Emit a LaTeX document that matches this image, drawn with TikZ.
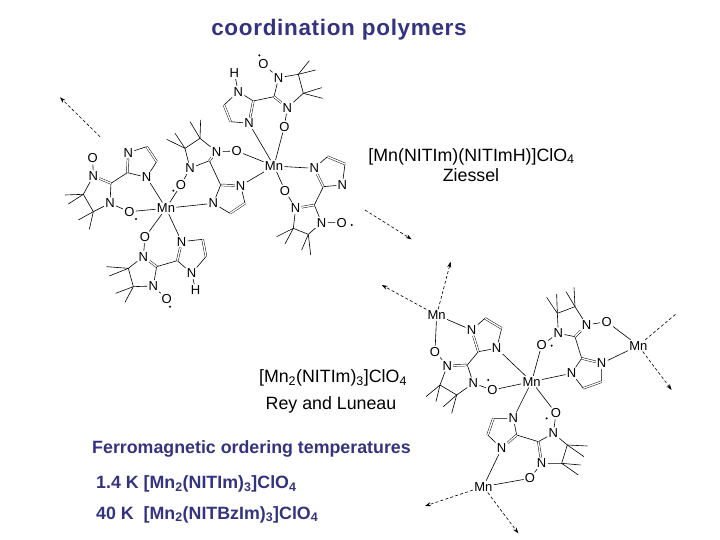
\documentclass[tikz,border=0pt]{standalone}
\usepackage{fontspec}
\setmainfont{Liberation Sans}
\usetikzlibrary{arrows.meta}
\definecolor{headblue}{HTML}{333380}
\tikzset{
  >={Stealth[length=6pt,width=4pt]},
  bond/.style={line width=.6pt},
  dbond/.style={line width=.45pt,double,double distance=1.4pt},
  atom/.style={inner sep=1.2pt,font=\fontsize{13}{13}\selectfont},
  radical/.style={circle,fill,inner sep=0pt,minimum size=2.2pt},
  dasharrow/.style={line width=.6pt,dash pattern=on 3pt off 2.2pt},
  formula/.style={inner sep=0pt,font=\fontsize{17.8}{17.8}\selectfont},
  head/.style={inner sep=0pt,text=headblue,font=\bfseries\fontsize{17.8}{17.8}\selectfont},
}
\begin{document}
\begin{tikzpicture}[x=1pt,y=-1pt]
\useasboundingbox (0,0) rectangle (720,540);
\node[head,font=\bfseries\fontsize{22.5}{22.5}\selectfont\addfontfeature{LetterSpace=3}] (title) at (339,30) {coordination polymers};
\node[formula] (zform) at (471.5,156.5) {[Mn(NITIm)(NITImH)]ClO\textsubscript{4}};
\node[formula] (zname) at (471,175) {Ziessel};
\node[formula] (rform) at (333,378) {[Mn\textsubscript{2}(NITIm)\textsubscript{3}]ClO\textsubscript{4}};
\node[formula] (rname) at (331,404.5) {Rey and Luneau};
\node[head] (ferro) at (251.5,449) {Ferromagnetic ordering temperatures};
\node[head,anchor=west] (tempa) at (96,484) {1.4 K [Mn\textsubscript{2}(NITIm)\textsubscript{3}]ClO\textsubscript{4}};
\node[head,anchor=west] (tempb) at (96,514.5) {40 K\ \ [Mn\textsubscript{2}(NITBzIm)\textsubscript{3}]ClO\textsubscript{4}};

% upper chain
\begin{scope}[shift={(50,40)},scale=1/3]
\foreach \n/\x/\y/\lab in {Mn1/672/378/Mn,Mn2/348/505/Mn,
  aO1/640/73/O,aN1/686/113/N,aN2/712/203/N,aO2/703/260/O,aN3/565/155/N,aH/553/100/H,aN4/597/250/N,
  bN1/500/335/N,bO1/560/333/O,bN2/420/385/N,bO2/393/435/O,bN3/572/437/N,bN4/490/490/N,
  cN1/235/338/N,cN2/290/412/N,cN3/130/408/N,cO1/128/355/O,cN4/180/490/N,cO2/238/515/O,
  dO1/285/592/O,dN1/280/650/N,dN2/310/738/N,dO2/350/778/O,dN3/395/605/N,dN4/425/700/N,dH/437/750/H,
  eN1/793/385/N,eN2/877/435/N,eN3/737/505/N,eO1/705/452/O,eN4/815/548/N,eO2/875/548/O}
  \node[atom] (\n) at (\x,\y) {\lab};
\foreach \n/\x/\y in {aC1/745/103,aC2/760/160,aC3/672/170,aC4/610/183,aC5/522/195,aC6/542/245,
  bC1/450/295,bC2/405/325,bC3/478/362,bC4/512/435,bC5/585/490,bC6/540/520,
  cC1/290/320,cC2/320/365,cC3/232/398,cC4/183/430,cC5/100/463,cC6/130/515,
  dC1/320/680,dC2/235/685,dC3/250/740,dC4/382/662,dC5/458/598,dC6/468/650,
  eC1/832/350,eC2/885/372,eC3/820/440,eC4/793/495,eC5/730/565,eC6/775/583}
  \coordinate (\n) at (\x,\y);
\foreach \p/\q in {aO1/aN1,aN1/aC1,aC1/aC2,aC2/aN2,aC3/aN1,aC3/aC4,aC4/aN3,aN3/aC5,aC6/aN4,aN3/aH,aN2/aO2,aO2/Mn1,aN4/Mn1,
  bN1/bC1,bC1/bC2,bC2/bN2,bN2/bC3,bC3/bC4,bN1/bO1,bO1/Mn1,bN2/bO2,bO2/Mn2,bN3/bC5,bC6/bN4,bN4/bC4,bN3/Mn1,bN4/Mn2,
  cN1/cC1,cC2/cN2,cN2/cC3,cN2/Mn2,cC3/cC4,cN3/cO1,cN3/cC5,cC5/cC6,cC6/cN4,cN4/cC4,cN4/cO2,cO2/Mn2,
  dO1/Mn2,dO1/dN1,dN1/dC2,dC2/dC3,dC3/dN2,dN2/dC1,dN2/dO2,dC1/dC4,dN3/dC5,dC6/dN4,dN4/dC4,dN4/dH,dN3/Mn2,
  Mn1/eN1,eN1/eC1,eC2/eN2,eN2/eC3,eC3/eC4,eN3/eO1,eO1/Mn1,eN3/eC5,eC5/eC6,eC6/eN4,eN4/eC4,eN4/eO2}
  \draw[bond] (\p) -- (\q);
\foreach \p/\q in {aN2/aC3,aC4/aN4,aC5/aC6,bN1/bC3,bC4/bN3,bC5/bC6,cN1/cC3,cC1/cC2,cC4/cN3,dN1/dC1,dC4/dN3,dC5/dC6,eN1/eC3,eC1/eC2,eC4/eN3}
  \draw[dbond] (\p) -- (\q);
\foreach \c/\x/\y [count=\i] in {aC1/778/62,aC1/797/90,aC2/815/143,aC2/818/175,bC1/420/245,bC1/452/240,bC2/350/298,bC2/375/280,
  cC5/45/465,cC5/55/492,cC6/85/540,cC6/118/568,dC2/170/680,dC2/178/708,dC3/197/760,dC3/225/787,eC5/680/590,eC5/705/612,eC6/755/630,eC6/782/645} {
  \coordinate (me\i) at (\x,\y);
  \draw[bond] (\c) -- (me\i);
}
\foreach \x/\y [count=\i] in {628/46,370/452,258/537,360/800,905/555}
  \node[radical] (rad\i) at (\x,\y) {};
\coordinate (from1) at (150,290);
\coordinate (to1) at (30,172);
\draw[dasharrow,->] (from1) -- (to1);
\end{scope}

% lower chain
\begin{scope}[shift={(360,200)},scale=1/3]
\foreach \n/\x/\y/\lab in {Mn3/230/345/Mn,Mn4/835/437/Mn,Mn5/370/860/Mn,Mn6/515/545/Mn,
  fN1/335/390/N,fN2/410/445/N,fN3/262/497/N,fO1/225/455/O,fN4/340/550/N,fO2/397/570/O,
  gO1/545/435/O,gN1/595/400/N,gN2/680/375/N,gO2/740/365/O,gN3/725/490/N,gN4/635/520/N,
  hN1/460/655/N,hN2/425/745/N,hN3/545/790/N,hO1/510/835/O,hN4/580/700/N,hO2/588/640/O}
  \node[atom] (\n) at (\x,\y) {\lab};
\foreach \n/\x/\y in {fC1/375/355,fC2/425/385,fC3/355/455,fC4/322/495,fC5/240/555,fC6/290/585,
  gC1/592/340,gC2/645/320,gC3/645/410,gC4/665/475,gC5/725/545,gC6/670/565,
  hC1/400/655,hC2/383/705,hC3/470/705,hC4/535/725,hC5/622/735,hC6/605/790}
  \coordinate (\n) at (\x,\y);
\foreach \p/\q in {Mn3/fN1,fN1/fC1,fC2/fN2,fN2/fC3,fN2/Mn6,fC3/fC4,fN3/fO1,fO1/Mn3,fN3/fC5,fC5/fC6,fC6/fN4,fN4/fC4,fN4/fO2,fO2/Mn6,
  Mn6/gO1,gO1/gN1,gN1/gC1,gC1/gC2,gC2/gN2,gC3/gN1,gN2/gO2,gO2/Mn4,gC3/gC4,gN3/gC5,gC6/gN4,gN4/gC4,gN3/Mn4,gN4/Mn6,
  Mn6/hN1,hN1/hC1,hC2/hN2,hN1/hC3,hN2/Mn5,hC3/hC4,hN3/hO1,hO1/Mn5,hC4/hN4,hN4/hO2,hO2/Mn6,hN4/hC5,hC5/hC6,hC6/hN3}
  \draw[bond] (\p) -- (\q);
\foreach \p/\q in {fN1/fC3,fC1/fC2,fC4/fN3,gN2/gC3,gC4/gN3,gC5/gC6,hC1/hC2,hC3/hN2,hC4/hN3}
  \draw[dbond] (\p) -- (\q);
\foreach \c/\x/\y [count=\i] in {fC5/198/590,fC5/228/605,fC6/250/620,fC6/275/640,gC1/560/292,gC1/590/282,gC2/618/275,gC2/642/262,
  hC5/682/738,hC5/672/770,hC6/662/795,hC6/655/825} {
  \coordinate (me\i) at (\x,\y);
  \draw[bond] (\c) -- (me\i);
}
\foreach \x/\y [count=\i] in {385/540,575/437,560/655}
  \node[radical] (rad\i) at (\x,\y) {};
\coordinate (from2) at (15,30);
\coordinate (to2) at (155,118);
\coordinate (to3) at (272,185);
\coordinate (to4) at (65,255);
\coordinate (to5) at (950,340);
\coordinate (to6) at (935,570);
\coordinate (to7) at (195,918);
\coordinate (to8) at (475,1000);
\draw[dasharrow,->] (from2) -- (to2);
\draw[dasharrow,->] (Mn3) -- (to3);
\draw[dasharrow,->] (Mn3) -- (to4);
\draw[dasharrow] (Mn4) -- (to5);
\draw[dasharrow,->] (Mn4) -- (to6);
\draw[dasharrow,->] (Mn5) -- (to7);
\draw[dasharrow,->] (Mn5) -- (to8);
\end{scope}
\end{tikzpicture}
\end{document}
